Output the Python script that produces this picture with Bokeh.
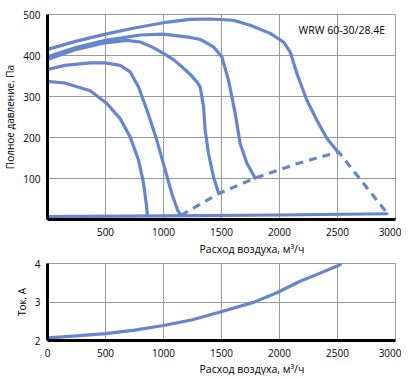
from bokeh.plotting import figure
from bokeh.layouts import column
from bokeh.models import Range1d, FixedTicker, Label, Title
from bokeh.embed import file_html
from bokeh.resources import INLINE

FONT = "Open Sans"
BLUE = "#6685CC"
GRID = "#9a9a9a"

# ---- pressure curves (x: m3/h, y: Pa) ----
c1_x = [0, 150, 368, 512, 627, 713, 785, 828, 851, 862]
c1_y = [337, 333, 314, 283, 246, 201, 145, 88, 39, 10]

c2_x = [0, 150, 368, 500, 627, 713, 785, 857, 943, 1015, 1072, 1121, 1150]
c2_y = [366, 376, 382, 382, 376, 360, 323, 267, 193, 120, 63, 23, 10]

c3_x = [0, 250, 500, 684, 799, 900, 1000, 1086, 1160, 1230, 1290, 1316, 1345, 1359, 1388, 1431, 1474]
c3_y = [390, 415, 431, 437, 433, 421, 405, 390, 372, 354, 335, 323, 275, 218, 161, 104, 65]

c4_x = [0, 250, 500, 800, 1000, 1230, 1318, 1431, 1503, 1560, 1618, 1661, 1719, 1790]
c4_y = [397, 420, 437, 450, 452, 444, 439, 421, 397, 340, 259, 185, 137, 101]

c5_x = [0, 250, 500, 750, 1000, 1230, 1400, 1603, 1747, 1920, 2034, 2092, 2150, 2236, 2322, 2408, 2509]
c5_y = [415, 435, 452, 467, 480, 488, 489, 486, 474, 454, 433, 409, 356, 291, 242, 198, 163]

sys_x = [1150, 1474, 1790, 2150, 2509, 2926]
sys_y = [10, 63, 101, 136, 165, 16]

base_x = [0, 1000, 2000, 2926]
base_y = [7, 9, 11, 14]

# ---- current curve (x: m3/h, y: A) ----
i_x = [0, 250, 500, 750, 1000, 1250, 1489, 1776, 1977, 2178, 2350, 2523]
i_y = [2.07, 2.12, 2.18, 2.27, 2.39, 2.54, 2.74, 2.99, 3.24, 3.54, 3.75, 3.97]

x_ticks = [0, 500, 1000, 1500, 2000, 2500, 3000]
p_ticks = [0, 100, 200, 300, 400, 500]
i_ticks = [2, 3, 4]

x_title = "Расход воздуха, м³/ч"
p_title = "Полное давление, Па"
i_title = "Ток, А"
model = "WRW 60-30/28.4E"


def style(p):
    p.outline_line_color = GRID
    p.outline_line_width = 1
    p.background_fill_color = "white"
    p.border_fill_color = "white"
    for ax in (p.xaxis[0], p.yaxis[0]):
        ax.axis_line_color = "black"
        ax.axis_line_width = 3
        ax.major_tick_in = 0
        ax.major_tick_out = 0
        ax.minor_tick_line_color = None
        ax.major_label_text_font = FONT
        ax.major_label_text_font_size = "10px"
        ax.major_label_text_color = "black"
        ax.axis_label_text_font = FONT
        ax.axis_label_text_font_size = "10px"
        ax.axis_label_text_font_style = "normal"
        ax.axis_label_text_color = "black"
    p.yaxis.major_label_standoff = 7
    p.yaxis.axis_label_standoff = 3
    p.grid.grid_line_color = GRID
    p.grid.grid_line_width = 1
    p.grid.grid_line_alpha = 1.0


p1 = figure(width=401, height=258, min_border_left=47, min_border_right=6,
            min_border_top=14, min_border_bottom=39,
            x_range=Range1d(0, 3000), y_range=Range1d(0, 500),
            output_backend="svg", toolbar_location=None)
style(p1)
p1.xaxis.major_label_standoff = 8
p1.xaxis.ticker = FixedTicker(ticks=x_ticks)
p1.yaxis.ticker = FixedTicker(ticks=p_ticks)
p1.xaxis.major_label_overrides = {0: ""}
p1.yaxis.major_label_overrides = {0: ""}
p1.yaxis.axis_label = p_title

for xs, ys in [(c1_x, c1_y), (c2_x, c2_y), (c3_x, c3_y), (c4_x, c4_y), (c5_x, c5_y), (base_x, base_y)]:
    p1.line(xs, ys, line_color=BLUE, line_width=3.2, line_join="round", line_cap="round")
p1.line(sys_x, sys_y, line_color=BLUE, line_width=3.2, line_dash="8 6")

p1.add_layout(Label(x=-12, y=-13, x_units="screen", y_units="screen", text="0",
                    text_align="center", text_baseline="middle",
                    text_font=FONT, text_font_size="10px", text_color="black"))
p1.add_layout(Label(x=2910, y=462, text=model, text_align="right", text_baseline="middle",
                    text_font=FONT, text_font_size="10.5px", text_color="black"))
p1.add_layout(Title(text=x_title, align="left", offset=152, standoff=2,
                    text_font=FONT, text_font_size="10.5px", text_font_style="normal",
                    text_color="black"), "below")

p2 = figure(width=401, height=117, min_border_left=47, min_border_right=6,
            min_border_top=5, min_border_bottom=32,
            x_range=Range1d(0, 3000), y_range=Range1d(2, 4),
            output_backend="svg", toolbar_location=None)
style(p2)
p2.xaxis.major_label_standoff = 8
p2.xaxis.ticker = FixedTicker(ticks=x_ticks)
p2.yaxis.ticker = FixedTicker(ticks=i_ticks)
p2.yaxis.axis_label = i_title
p2.line(i_x, i_y, line_color=BLUE, line_width=3.2, line_join="round", line_cap="round")
p2.add_layout(Title(text=x_title, align="left", offset=152, standoff=0,
                    text_font=FONT, text_font_size="10.5px", text_font_style="normal",
                    text_color="black"), "below")

layout = column(p1, p2, spacing=0)
open("out.html", "w").write(file_html(layout, INLINE))
